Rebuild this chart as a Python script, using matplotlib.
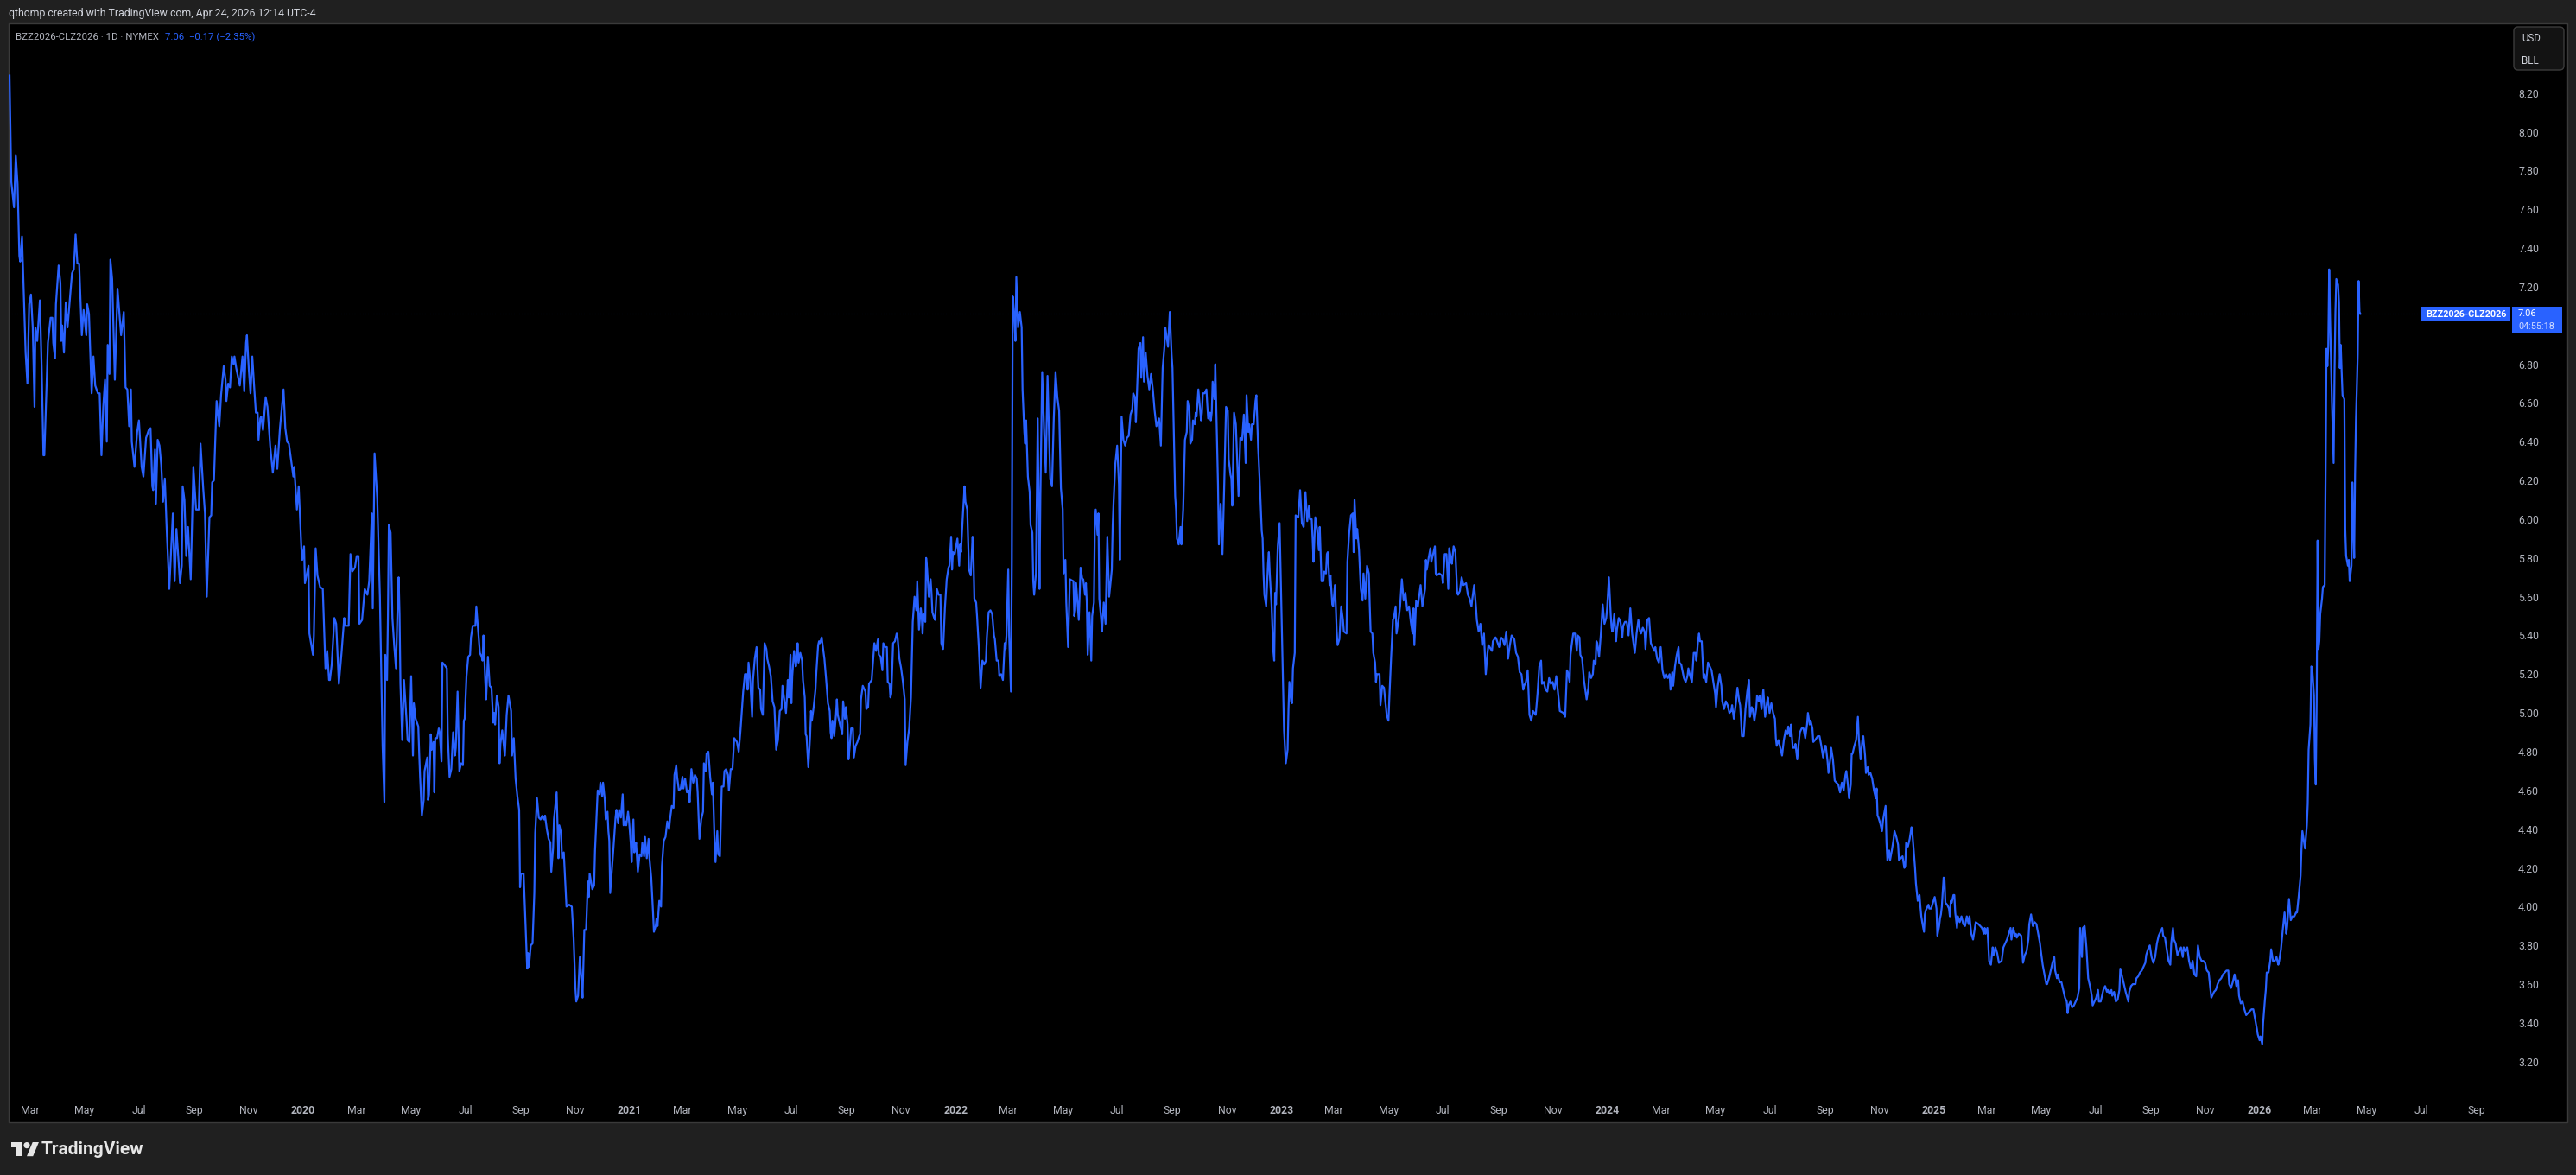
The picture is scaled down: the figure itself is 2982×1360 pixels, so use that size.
import numpy as np
import pandas as pd
import matplotlib
matplotlib.use("Agg")
import matplotlib.pyplot as plt
from matplotlib.patches import Rectangle, Polygon, Circle, FancyBboxPatch

# BZZ2026 - CLZ2026 spread.
# Day offsets are counted from 1 January of each year (0 = Jan 1).
days_2019 = [36, 38, 41, 43, 45, 47, 48, 50, 54, 56, 58, 60, 62, 64, 65, 67, 70, 72, 74, 75,
             79, 82, 84, 85, 87, 88, 91, 93, 94, 95, 97, 99, 101, 106, 108, 110, 112, 114, 117, 119,
             122, 123, 125, 128, 130, 132, 135, 137, 139, 141, 143, 145, 146, 148, 149, 151, 154, 157, 161, 164,
             166, 168, 170, 172, 173, 176, 179, 181, 184, 186, 189, 192, 194, 196, 197, 199, 200, 202, 204, 206,
             208, 210, 212, 215, 219, 221, 223, 227, 229, 230, 232, 234, 236, 239, 242, 245, 248, 250, 253, 255,
             257, 260, 262, 263, 265, 268, 271, 273, 276, 278, 279, 281, 283, 285, 287, 288, 290, 294, 297, 299,
             301, 302, 304, 306, 308, 310, 312, 314, 315, 317, 318, 320, 323, 325, 328, 331, 334, 336, 339, 343,
             345, 347, 349, 352, 354, 355, 358, 360, 363, 364]
spread_2019 = [8.29, 7.74, 7.61, 7.88, 7.73, 7.36, 7.33, 7.46, 6.86, 6.70, 7.11, 7.16, 6.99, 6.58, 6.99, 6.92, 7.13, 6.78, 6.33, 6.33,
               6.91, 7.04, 7.04, 6.91, 6.83, 7.11, 7.31, 7.22, 6.92, 7.00, 6.86, 7.12, 6.99, 7.27, 7.29, 7.47, 7.32, 7.32, 6.95, 7.08,
               6.95, 7.11, 7.06, 6.65, 6.84, 6.69, 6.65, 6.65, 6.33, 6.58, 6.72, 6.40, 6.90, 6.75, 7.34, 7.24, 6.72, 7.19, 6.95, 7.07,
               6.68, 6.67, 6.48, 6.67, 6.40, 6.27, 6.45, 6.51, 6.27, 6.22, 6.42, 6.46, 6.47, 6.17, 6.15, 6.36, 6.08, 6.41, 6.38, 6.28,
               6.09, 6.21, 5.96, 5.64, 6.03, 5.68, 5.95, 5.67, 5.76, 6.17, 6.10, 5.81, 5.96, 5.69, 6.27, 6.05, 6.05, 6.39, 6.16, 6.03,
               5.60, 6.01, 6.02, 6.19, 6.20, 6.61, 6.48, 6.64, 6.79, 6.72, 6.61, 6.70, 6.68, 6.84, 6.80, 6.84, 6.78, 6.69, 6.84, 6.66,
               6.91, 6.95, 6.78, 6.65, 6.84, 6.69, 6.55, 6.55, 6.41, 6.52, 6.53, 6.46, 6.63, 6.58, 6.38, 6.24, 6.38, 6.26, 6.47, 6.67,
               6.47, 6.40, 6.39, 6.29, 6.22, 6.27, 6.05, 6.17, 5.85, 5.79]

days_2020 = [1, 2, 6, 7, 11, 12, 14, 16, 19, 22, 25, 27, 29, 30, 32, 35, 37, 40, 43, 46,
             47, 51, 53, 55, 58, 60, 62, 63, 66, 69, 72, 74, 77, 78, 80, 83, 86, 89, 91, 92,
             94, 95, 96, 98, 100, 102, 104, 106, 107, 108, 109, 111, 113, 116, 117, 119, 121, 123, 124, 126,
             129, 130, 131, 133, 135, 136, 139, 140, 141, 143, 144, 146, 147, 148, 150, 152, 153, 155, 156, 158,
             161, 162, 164, 166, 168, 170, 171, 173, 175, 177, 179, 180, 181, 183, 185, 187, 188, 190, 193, 194,
             196, 198, 200, 201, 202, 204, 205, 207, 209, 211, 213, 214, 215, 217, 219, 220, 221, 223, 226, 228,
             230, 233, 234, 236, 238, 240, 242, 243, 244, 247, 248, 250, 251, 252, 253, 255, 257, 259, 260, 262,
             264, 266, 268, 270, 271, 273, 275, 277, 278, 280, 281, 284, 286, 287, 289, 290, 292, 295, 298, 301,
             303, 305, 306, 308, 310, 312, 313, 315, 317, 319, 320, 321, 324, 326, 327, 329, 330, 332, 333, 335,
             336, 338, 339, 341, 342, 343, 344, 347, 350, 351, 353, 354, 356, 358, 359, 361, 362, 364, 365]
spread_2020 = [5.86, 5.67, 5.76, 5.41, 5.30, 5.40, 5.85, 5.71, 5.65, 5.64, 5.23, 5.32, 5.17, 5.17, 5.25, 5.49, 5.46, 5.15, 5.31, 5.49,
               5.45, 5.45, 5.82, 5.73, 5.75, 5.81, 5.81, 5.46, 5.48, 5.64, 5.61, 5.68, 6.03, 5.54, 6.34, 6.11, 5.60, 4.83, 4.54, 5.30,
               5.17, 5.50, 5.97, 5.93, 5.49, 5.35, 5.23, 5.59, 5.70, 5.51, 5.15, 4.86, 5.17, 4.95, 4.86, 4.85, 5.19, 4.78, 5.05, 4.97,
               4.93, 4.79, 4.67, 4.47, 4.55, 4.70, 4.77, 4.55, 4.58, 4.89, 4.81, 4.85, 4.59, 4.87, 4.87, 4.92, 4.90, 4.75, 5.26, 5.25,
               5.23, 4.89, 4.67, 4.71, 4.90, 4.78, 4.82, 5.11, 4.70, 4.74, 4.73, 4.96, 4.97, 5.19, 5.29, 5.30, 5.39, 5.45, 5.45, 5.55,
               5.43, 5.31, 5.29, 5.27, 5.40, 5.17, 5.07, 5.29, 5.14, 5.13, 4.95, 5.00, 4.94, 5.09, 5.03, 4.74, 4.84, 4.91, 4.78, 4.99,
               5.09, 5.01, 4.78, 4.87, 4.66, 4.57, 4.50, 4.10, 4.17, 4.17, 4.05, 3.81, 3.68, 3.76, 3.69, 3.80, 3.81, 4.07, 4.38, 4.56,
               4.46, 4.45, 4.47, 4.45, 4.47, 4.40, 4.35, 4.33, 4.18, 4.30, 4.45, 4.59, 4.25, 4.42, 4.38, 4.25, 4.28, 4.00, 4.01, 4.00,
               3.84, 3.58, 3.51, 3.54, 3.74, 3.61, 3.53, 3.88, 3.88, 4.13, 4.05, 4.17, 4.09, 4.11, 4.29, 4.49, 4.60, 4.58, 4.64, 4.57,
               4.64, 4.55, 4.45, 4.49, 4.39, 4.34, 4.07, 4.26, 4.46, 4.50, 4.43, 4.50, 4.46, 4.58, 4.42, 4.44, 4.42, 4.49, 4.45]

days_2021 = [1, 2, 4, 5, 6, 7, 9, 11, 13, 14, 16, 17, 19, 21, 22, 24, 26, 27, 29, 30,
             31, 33, 35, 36, 38, 40, 42, 44, 45, 47, 49, 50, 52, 53, 55, 57, 59, 60, 62, 64,
             66, 67, 69, 71, 73, 75, 76, 78, 80, 82, 83, 85, 86, 88, 90, 92, 93, 95, 96, 98,
             99, 101, 103, 105, 106, 108, 110, 111, 113, 115, 117, 120, 122, 124, 126, 127, 129, 131, 132, 133,
             135, 137, 138, 140, 142, 144, 146, 147, 149, 151, 153, 154, 156, 158, 160, 162, 164, 166, 168, 170,
             171, 175, 176, 177, 178, 180, 181, 182, 184, 186, 187, 188, 189, 191, 193, 194, 196, 197, 198, 200,
             202, 203, 204, 206, 208, 209, 211, 212, 213, 215, 216, 218, 220, 222, 224, 225, 226, 227, 229, 231,
             232, 233, 235, 238, 239, 241, 242, 244, 245, 246, 248, 250, 251, 253, 255, 257, 258, 259, 261, 264,
             265, 267, 268, 271, 273, 274, 276, 278, 279, 281, 283, 284, 286, 288, 289, 291, 292, 293, 295, 297,
             299, 300, 302, 304, 306, 308, 309, 311, 313, 315, 317, 319, 321, 322, 324, 326, 327, 328, 329, 331,
             332, 333, 335, 337, 338, 339, 341, 342, 344, 346, 348, 349, 351, 353, 355, 357, 358, 360, 361, 362,
             364]
spread_2021 = [4.33, 4.23, 4.45, 4.28, 4.31, 4.33, 4.18, 4.27, 4.26, 4.33, 4.26, 4.36, 4.25, 4.35, 4.25, 4.15, 3.97, 3.87, 3.90, 3.94,
               3.90, 4.03, 4.00, 4.21, 4.34, 4.36, 4.44, 4.40, 4.45, 4.52, 4.51, 4.68, 4.73, 4.67, 4.60, 4.61, 4.67, 4.61, 4.66, 4.59,
               4.60, 4.54, 4.71, 4.64, 4.68, 4.66, 4.59, 4.35, 4.45, 4.49, 4.74, 4.70, 4.79, 4.80, 4.67, 4.58, 4.64, 4.33, 4.23, 4.39,
               4.27, 4.26, 4.62, 4.62, 4.70, 4.71, 4.68, 4.60, 4.71, 4.71, 4.87, 4.85, 4.80, 4.91, 5.04, 5.11, 5.20, 5.20, 5.12, 5.26,
               5.16, 4.98, 5.17, 5.28, 5.34, 5.13, 5.12, 5.02, 4.99, 5.36, 5.33, 5.28, 5.24, 5.19, 5.06, 5.03, 4.81, 4.86, 5.01, 5.02,
               5.14, 5.00, 5.08, 5.17, 5.08, 5.30, 5.05, 5.19, 5.32, 5.24, 5.28, 5.36, 5.26, 5.31, 5.27, 5.17, 5.08, 4.89, 4.88, 4.72,
               4.88, 5.01, 4.96, 5.03, 5.12, 5.21, 5.35, 5.37, 5.36, 5.39, 5.35, 5.28, 5.17, 5.05, 5.01, 4.90, 4.87, 4.96, 4.88, 4.99,
               5.07, 4.99, 4.95, 4.89, 5.06, 4.97, 5.03, 4.94, 4.76, 4.81, 4.92, 4.92, 4.77, 4.83, 4.85, 4.88, 4.89, 5.07, 5.14, 5.11,
               5.02, 5.03, 5.15, 5.17, 5.30, 5.36, 5.32, 5.38, 5.30, 5.29, 5.22, 5.36, 5.34, 5.34, 5.16, 5.15, 5.08, 5.10, 5.36, 5.37,
               5.41, 5.39, 5.28, 5.23, 5.16, 5.07, 4.73, 4.85, 4.92, 5.08, 5.47, 5.60, 5.53, 5.68, 5.43, 5.54, 5.50, 5.41, 5.51, 5.47,
               5.80, 5.75, 5.60, 5.69, 5.62, 5.52, 5.49, 5.48, 5.64, 5.61, 5.61, 5.36, 5.33, 5.54, 5.69, 5.75, 5.76, 5.91, 5.74, 5.83,
               5.82]

days_2022 = [2, 4, 5, 6, 8, 10, 11, 13, 15, 17, 19, 20, 21, 23, 24, 26, 28, 30, 32, 34,
             35, 37, 39, 41, 43, 44, 46, 48, 49, 51, 53, 55, 56, 57, 59, 60, 62, 63, 64, 66,
             67, 68, 70, 72, 74, 75, 77, 78, 79, 81, 83, 84, 86, 87, 88, 90, 92, 94, 95, 97,
             99, 101, 103, 106, 108, 110, 112, 114, 116, 118, 120, 121, 123, 124, 126, 128, 132, 133, 134, 135,
             138, 140, 142, 143, 145, 146, 147, 148, 150, 152, 153, 155, 156, 157, 159, 160, 161, 163, 164, 166,
             168, 170, 172, 174, 175, 176, 177, 179, 181, 183, 184, 186, 188, 190, 192, 194, 196, 198, 199, 201,
             202, 203, 205, 207, 208, 210, 211, 213, 215, 217, 219, 221, 223, 225, 228, 230, 232, 234, 235, 238,
             240, 242, 243, 246, 247, 248, 250, 252, 253, 255, 257, 259, 260, 262, 263, 265, 266, 268, 269, 270,
             272, 274, 275, 276, 277, 279, 281, 282, 283, 285, 286, 287, 288, 290, 291, 292, 294, 295, 297, 299,
             301, 303, 305, 306, 308, 309, 310, 312, 314, 316, 317, 319, 321, 323, 325, 326, 328, 329, 331, 332,
             334, 336, 337, 339, 341, 343, 344, 345, 346, 348, 350, 351, 352, 354, 356, 357, 358, 359, 361, 363,
             364]
spread_2022 = [5.90, 5.76, 5.87, 5.83, 6.01, 6.17, 6.09, 6.05, 5.74, 5.71, 5.91, 5.81, 5.59, 5.57, 5.50, 5.34, 5.13, 5.27, 5.25, 5.27,
               5.39, 5.52, 5.53, 5.51, 5.40, 5.38, 5.27, 5.27, 5.19, 5.20, 5.17, 5.36, 5.33, 5.40, 5.74, 5.40, 5.11, 5.78, 7.15, 7.03,
               6.92, 7.25, 6.99, 7.07, 6.99, 6.67, 6.45, 6.39, 6.51, 6.22, 6.14, 5.97, 5.93, 5.68, 5.61, 5.72, 6.52, 5.64, 6.12, 6.76,
               6.48, 6.24, 6.74, 6.21, 6.17, 6.52, 6.76, 6.63, 6.56, 6.16, 6.05, 5.72, 5.79, 5.57, 5.34, 5.69, 5.68, 5.50, 5.53, 5.67,
               5.48, 5.75, 5.69, 5.69, 5.61, 5.67, 5.57, 5.30, 5.52, 5.27, 5.50, 5.57, 5.97, 6.05, 5.92, 6.03, 5.59, 5.49, 5.42, 5.57,
               5.46, 5.91, 5.60, 5.69, 5.74, 5.97, 6.09, 6.29, 6.38, 6.18, 5.79, 6.53, 6.41, 6.38, 6.42, 6.43, 6.54, 6.57, 6.65, 6.63,
               6.50, 6.63, 6.88, 6.91, 6.73, 6.94, 6.71, 6.86, 6.74, 6.67, 6.75, 6.67, 6.56, 6.48, 6.52, 6.38, 6.78, 6.89, 6.99, 6.89,
               7.07, 6.85, 6.78, 6.12, 6.05, 5.90, 5.87, 5.96, 5.87, 6.05, 6.41, 6.45, 6.61, 6.56, 6.39, 6.41, 6.51, 6.49, 6.55, 6.53,
               6.67, 6.56, 6.51, 6.55, 6.65, 6.65, 6.67, 6.59, 6.52, 6.55, 6.51, 6.55, 6.71, 6.62, 6.80, 6.60, 6.18, 5.87, 6.08, 5.82,
               6.18, 6.58, 6.56, 6.31, 6.23, 6.21, 6.07, 6.55, 6.49, 6.25, 6.12, 6.42, 6.41, 6.54, 6.29, 6.64, 6.45, 6.49, 6.41, 6.49,
               6.49, 6.61, 6.64, 6.37, 6.17, 5.94, 5.90, 5.72, 5.61, 5.55, 5.77, 5.83, 5.72, 5.56, 5.32, 5.27, 5.62, 5.56, 5.86, 5.98,
               5.77]

days_2023 = [1, 2, 3, 5, 7, 8, 9, 11, 12, 13, 15, 16, 19, 21, 23, 25, 27, 29, 31, 32,
             34, 35, 36, 38, 40, 42, 43, 45, 47, 48, 50, 51, 52, 54, 55, 57, 58, 60, 61, 62,
             63, 65, 67, 69, 70, 73, 74, 76, 78, 80, 81, 82, 84, 85, 87, 89, 91, 92, 94, 96,
             98, 99, 100, 102, 103, 105, 106, 107, 110, 111, 113, 115, 118, 120, 121, 123, 125, 126, 128, 129,
             131, 133, 135, 137, 139, 141, 143, 145, 147, 148, 149, 151, 153, 154, 156, 158, 160, 161, 162, 163,
             165, 167, 168, 170, 172, 173, 174, 177, 180, 181, 183, 185, 187, 188, 190, 191, 193, 195, 197, 198,
             200, 202, 204, 207, 209, 211, 213, 214, 216, 218, 219, 221, 223, 225, 227, 229, 231, 232, 236, 237,
             240, 241, 244, 246, 248, 250, 252, 254, 256, 258, 261, 263, 265, 267, 269, 271, 272, 274, 276, 278,
             280, 282, 285, 287, 289, 291, 292, 294, 296, 298, 300, 302, 304, 306, 308, 311, 312, 316, 318, 320,
             321, 323, 324, 325, 327, 329, 331, 332, 334, 335, 337, 339, 342, 344, 345, 347, 349, 350, 352, 353,
             354, 356, 357, 358, 360, 362, 364]
spread_2023 = [5.35, 5.16, 4.91, 4.74, 4.81, 5.02, 5.16, 5.06, 5.05, 5.23, 5.31, 6.02, 6.01, 6.15, 5.98, 5.96, 6.14, 5.99, 6.07, 6.00,
               6.00, 5.90, 5.78, 6.01, 5.95, 5.84, 5.96, 5.68, 5.68, 5.73, 5.72, 5.82, 5.83, 5.66, 5.71, 5.56, 5.55, 5.66, 5.55, 5.42,
               5.35, 5.38, 5.55, 5.48, 5.42, 5.41, 5.78, 5.93, 6.02, 6.03, 5.83, 6.10, 5.90, 5.95, 5.84, 5.64, 5.58, 5.72, 5.59, 5.76,
               5.72, 5.56, 5.42, 5.41, 5.31, 5.26, 5.16, 5.20, 5.20, 5.04, 5.14, 5.13, 4.99, 4.96, 5.08, 5.29, 5.48, 5.49, 5.55, 5.41,
               5.47, 5.55, 5.69, 5.58, 5.62, 5.53, 5.55, 5.47, 5.41, 5.54, 5.35, 5.58, 5.55, 5.59, 5.66, 5.55, 5.61, 5.64, 5.79, 5.74,
               5.80, 5.85, 5.78, 5.82, 5.86, 5.72, 5.71, 5.72, 5.71, 5.67, 5.82, 5.82, 5.64, 5.85, 5.80, 5.77, 5.86, 5.83, 5.62, 5.61,
               5.63, 5.70, 5.66, 5.67, 5.61, 5.59, 5.55, 5.59, 5.66, 5.55, 5.48, 5.42, 5.46, 5.35, 5.41, 5.20, 5.31, 5.35, 5.32, 5.37,
               5.39, 5.38, 5.34, 5.39, 5.38, 5.35, 5.42, 5.28, 5.35, 5.40, 5.38, 5.31, 5.29, 5.21, 5.20, 5.12, 5.14, 5.16, 5.22, 4.99,
               4.96, 5.01, 4.99, 5.10, 5.24, 5.27, 5.15, 5.16, 5.12, 5.11, 5.18, 5.15, 5.16, 5.12, 5.19, 5.06, 5.01, 5.00, 4.98, 5.22,
               5.21, 5.16, 5.30, 5.34, 5.41, 5.41, 5.32, 5.40, 5.39, 5.30, 5.28, 5.17, 5.07, 5.13, 5.21, 5.18, 5.20, 5.27, 5.25, 5.37,
               5.36, 5.29, 5.35, 5.41, 5.56, 5.46, 5.49]

days_2024 = [0, 2, 4, 5, 6, 8, 10, 11, 13, 15, 17, 18, 20, 22, 24, 26, 28, 31, 33, 35,
             37, 38, 40, 42, 43, 45, 47, 49, 51, 53, 54, 56, 58, 60, 62, 64, 66, 68, 70, 71,
             73, 74, 76, 78, 80, 81, 83, 86, 88, 90, 91, 93, 95, 97, 99, 100, 102, 103, 104, 106,
             108, 109, 111, 113, 115, 117, 119, 121, 122, 124, 126, 128, 129, 131, 133, 135, 137, 139, 140, 142,
             144, 146, 148, 149, 150, 151, 153, 155, 157, 159, 160, 162, 163, 165, 167, 168, 170, 171, 173, 175,
             177, 179, 180, 182, 184, 186, 188, 189, 190, 192, 194, 196, 198, 200, 202, 203, 205, 206, 208, 210,
             211, 213, 215, 216, 218, 220, 222, 224, 225, 227, 228, 230, 231, 233, 236, 238, 240, 242, 244, 245,
             247, 248, 250, 251, 253, 255, 257, 259, 261, 263, 265, 267, 268, 270, 271, 273, 274, 275, 277, 279,
             281, 282, 284, 286, 287, 289, 290, 292, 293, 295, 297, 299, 301, 302, 303, 304, 306, 308, 309, 310,
             312, 313, 314, 316, 317, 319, 321, 322, 324, 326, 327, 329, 331, 333, 334, 335, 337, 339, 341, 342,
             343, 345, 346, 348, 350, 351, 352, 353, 355, 356, 357, 359, 360, 361, 363, 365]
spread_2024 = [5.54, 5.70, 5.51, 5.44, 5.42, 5.51, 5.37, 5.43, 5.49, 5.47, 5.39, 5.45, 5.47, 5.47, 5.40, 5.54, 5.41, 5.31, 5.41, 5.48,
               5.42, 5.41, 5.44, 5.42, 5.33, 5.48, 5.49, 5.36, 5.34, 5.32, 5.34, 5.28, 5.26, 5.34, 5.22, 5.18, 5.20, 5.18, 5.20, 5.12,
               5.21, 5.14, 5.24, 5.30, 5.34, 5.26, 5.25, 5.18, 5.16, 5.19, 5.23, 5.19, 5.16, 5.31, 5.31, 5.27, 5.38, 5.41, 5.37, 5.37,
               5.18, 5.20, 5.16, 5.26, 5.24, 5.22, 5.16, 5.10, 5.03, 5.14, 5.20, 5.14, 5.06, 5.02, 5.06, 5.04, 5.00, 5.01, 5.04, 4.97,
               5.04, 5.13, 5.06, 5.04, 4.97, 4.88, 4.88, 5.02, 5.11, 5.17, 4.98, 5.03, 5.02, 4.96, 5.02, 5.09, 5.06, 5.09, 5.02, 5.12,
               4.98, 5.05, 5.08, 5.00, 5.05, 5.00, 4.97, 4.87, 4.83, 4.86, 4.82, 4.78, 4.86, 4.91, 4.89, 4.93, 4.88, 4.94, 4.82, 4.82,
               4.84, 4.76, 4.86, 4.90, 4.92, 4.92, 4.87, 4.94, 5.00, 4.94, 4.96, 4.92, 4.85, 4.86, 4.88, 4.88, 4.83, 4.77, 4.83, 4.83,
               4.75, 4.69, 4.76, 4.82, 4.76, 4.65, 4.64, 4.63, 4.59, 4.64, 4.60, 4.68, 4.70, 4.62, 4.56, 4.63, 4.79, 4.79, 4.83, 4.86,
               4.98, 4.87, 4.76, 4.86, 4.88, 4.78, 4.69, 4.72, 4.68, 4.69, 4.66, 4.60, 4.56, 4.61, 4.47, 4.46, 4.43, 4.39, 4.44, 4.47,
               4.52, 4.33, 4.24, 4.29, 4.24, 4.29, 4.35, 4.39, 4.36, 4.32, 4.24, 4.25, 4.26, 4.20, 4.21, 4.33, 4.31, 4.35, 4.41, 4.38,
               4.32, 4.20, 4.12, 4.03, 4.06, 4.00, 3.95, 3.92, 3.87, 3.96, 3.98, 4.00, 4.01, 3.99, 3.99, 4.02]

days_2025 = [1, 3, 4, 6, 7, 8, 9, 11, 12, 13, 15, 17, 18, 19, 20, 22, 23, 24, 26, 27,
             29, 31, 33, 35, 37, 39, 40, 42, 44, 46, 47, 50, 52, 54, 56, 57, 58, 60, 61, 62,
             64, 66, 67, 69, 71, 73, 76, 78, 80, 82, 84, 86, 87, 89, 91, 92, 93, 95, 98, 100,
             102, 104, 106, 107, 109, 111, 113, 115, 117, 119, 120, 122, 124, 126, 127, 129, 131, 133, 135, 136,
             138, 139, 141, 143, 145, 147, 149, 150, 151, 153, 155, 157, 159, 161, 163, 164, 166, 167, 169, 171,
             173, 175, 177, 178, 180, 182, 184, 185, 187, 188, 190, 192, 194, 195, 197, 199, 200, 202, 204, 206,
             208, 209, 211, 213, 215, 218, 219, 221, 223, 226, 227, 229, 231, 233, 235, 237, 238, 240, 242, 244,
             246, 248, 250, 252, 254, 256, 257, 259, 261, 263, 265, 266, 268, 269, 271, 273, 275, 277, 279, 280,
             282, 284, 286, 288, 290, 292, 294, 296, 298, 300, 302, 304, 306, 308, 310, 311, 314, 316, 318, 320,
             322, 324, 326, 328, 330, 331, 333, 335, 337, 339, 341, 342, 344, 346, 348, 350, 352, 354, 356, 358,
             360, 362, 363]
spread_2025 = [4.05, 3.99, 3.85, 3.90, 3.94, 3.96, 4.00, 4.15, 4.14, 4.02, 4.01, 3.99, 3.95, 4.03, 4.02, 4.06, 4.06, 3.97, 3.89, 3.95,
               3.92, 3.95, 3.91, 3.90, 3.95, 3.91, 3.95, 3.86, 3.83, 3.89, 3.92, 3.91, 3.90, 3.89, 3.86, 3.89, 3.86, 3.89, 3.81, 3.72,
               3.70, 3.79, 3.75, 3.79, 3.76, 3.71, 3.72, 3.79, 3.81, 3.83, 3.86, 3.89, 3.83, 3.89, 3.85, 3.86, 3.84, 3.86, 3.85, 3.71,
               3.75, 3.77, 3.83, 3.91, 3.96, 3.90, 3.92, 3.91, 3.86, 3.81, 3.77, 3.70, 3.65, 3.60, 3.60, 3.63, 3.67, 3.71, 3.74, 3.67,
               3.63, 3.65, 3.61, 3.61, 3.57, 3.53, 3.51, 3.45, 3.49, 3.51, 3.48, 3.49, 3.51, 3.53, 3.58, 3.89, 3.74, 3.89, 3.90, 3.79,
               3.63, 3.59, 3.54, 3.49, 3.51, 3.53, 3.57, 3.51, 3.51, 3.53, 3.57, 3.59, 3.56, 3.57, 3.55, 3.57, 3.54, 3.56, 3.51, 3.52,
               3.57, 3.68, 3.64, 3.60, 3.56, 3.51, 3.56, 3.59, 3.60, 3.60, 3.63, 3.64, 3.66, 3.67, 3.69, 3.71, 3.75, 3.78, 3.80, 3.74,
               3.71, 3.74, 3.81, 3.85, 3.87, 3.89, 3.85, 3.84, 3.78, 3.72, 3.70, 3.81, 3.89, 3.83, 3.81, 3.75, 3.77, 3.79, 3.74, 3.79,
               3.77, 3.79, 3.72, 3.68, 3.72, 3.65, 3.64, 3.80, 3.74, 3.72, 3.72, 3.71, 3.67, 3.66, 3.57, 3.53, 3.56, 3.57, 3.60, 3.62,
               3.63, 3.65, 3.66, 3.67, 3.67, 3.60, 3.58, 3.61, 3.65, 3.59, 3.62, 3.54, 3.50, 3.51, 3.47, 3.44, 3.45, 3.46, 3.47, 3.47,
               3.42, 3.37, 3.34]

days_2026 = [0, 1, 3, 4, 6, 7, 8, 10, 12, 13, 15, 17, 19, 21, 22, 24, 26, 28, 30, 31,
             33, 35, 37, 39, 41, 42, 44, 46, 47, 48, 51, 53, 54, 55, 57, 58, 59, 61, 62, 63,
             64, 65, 66, 67, 68, 70, 71, 73, 74, 75, 76, 77, 78, 79, 81, 83, 84, 85, 86, 88,
             89, 90, 91, 92, 93, 95, 96, 97, 99, 100, 101, 103, 104, 105, 106, 107, 108, 110, 111, 112,
             113]
spread_2026 = [3.31, 3.33, 3.29, 3.40, 3.52, 3.57, 3.66, 3.66, 3.72, 3.78, 3.72, 3.72, 3.74, 3.70, 3.72, 3.78, 3.88, 3.97, 3.86, 3.90,
               4.04, 3.93, 3.95, 3.95, 3.97, 3.97, 4.06, 4.16, 4.30, 4.39, 4.30, 4.42, 4.53, 4.81, 4.94, 5.24, 5.23, 5.09, 4.76, 4.63,
               5.06, 5.89, 5.33, 5.37, 5.51, 5.59, 5.65, 5.66, 6.23, 6.88, 6.79, 6.89, 7.29, 7.04, 6.62, 6.29, 6.76, 7.07, 7.24, 7.21,
               7.12, 6.78, 6.90, 6.76, 6.64, 6.62, 5.95, 5.81, 5.76, 5.79, 5.68, 5.76, 6.19, 5.98, 5.80, 6.23, 6.51, 6.85, 7.23, 7.07,
               7.06]

symbol = "BZZ2026-CLZ2026"
last_price = 7.06
change = -0.17
change_pct = -2.35
countdown = "04:55:18"
header = "qthomp created with TradingView.com, Apr 24, 2026 12:14 UTC-4"
price_ticks = [3.20, 3.40, 3.60, 3.80, 4.00, 4.20, 4.40, 4.60, 4.80, 5.00, 5.20, 5.40, 5.60,
               5.80, 6.00, 6.20, 6.40, 6.60, 6.80, 7.00, 7.20, 7.40, 7.60, 7.80, 8.00, 8.20]
month_names = {3: "Mar", 5: "May", 7: "Jul", 9: "Sep", 11: "Nov"}

# colours
BG = "#202020"
PANEL_EDGE = "#3a3a3a"
LINE = "#2962ff"
AXIS_TXT = "#b2b5be"
TXT = "#d1d4dc"

plt.rcParams["font.family"] = ["Roboto", "DejaVu Sans"]

W, H = 2982, 1360
fig = plt.figure(figsize=(W / 100, H / 100), dpi=100, facecolor=BG)

# background layer (pixel coordinates, origin top-left)
back = fig.add_axes([0, 0, 1, 1], zorder=0)
back.set_xlim(0, W)
back.set_ylim(H, 0)
back.axis("off")
back.add_patch(Rectangle((10, 27), 2962, 1272, facecolor="black", edgecolor=PANEL_EDGE, lw=1))

# price pane
ax = fig.add_axes([10 / W, 1 - 1270 / H, 2896 / W, 1243 / H], zorder=1)
ax.set_facecolor("none")

segments = [(2019, days_2019, spread_2019), (2020, days_2020, spread_2020),
            (2021, days_2021, spread_2021), (2022, days_2022, spread_2022),
            (2023, days_2023, spread_2023), (2024, days_2024, spread_2024),
            (2025, days_2025, spread_2025), (2026, days_2026, spread_2026)]
dates, values = [], []
for year, days, vals in segments:
    start = pd.Timestamp(year=year, month=1, day=1)
    dates.extend(start + pd.to_timedelta(days, unit="D"))
    values.extend(vals)
series = pd.Series(values, index=pd.DatetimeIndex(dates))

ax.plot(series.index, series.values, color=LINE, lw=1.6, solid_joinstyle="round", zorder=3)
ax.axhline(last_price, color=LINE, lw=0.75, ls=(0, (1, 2)), zorder=2)

ax.set_xlim(pd.Timestamp("2019-02-05"), pd.Timestamp("2026-10-09"))
ax.set_ylim(3.016, 8.56)
for s in ax.spines.values():
    s.set_visible(False)

# price scale; a level hidden under the last-price label is left blank, as on the chart
ax.yaxis.tick_right()
ax.set_yticks(price_ticks)
ax.set_yticklabels(["" if abs(v - last_price) < 0.1 else f"{v:.2f}" for v in price_ticks])
ax.tick_params(axis="y", length=0, pad=6.5, labelsize=8.8, labelcolor=AXIS_TXT)

# time scale
tick_dates, tick_labels = [], []
for year in range(2019, 2027):
    for month in (1, 3, 5, 7, 9, 11):
        d = pd.Timestamp(year=year, month=month, day=1)
        if d < pd.Timestamp("2019-03-01") or d > pd.Timestamp("2026-09-01"):
            continue
        tick_dates.append(d)
        tick_labels.append(str(year) if month == 1 else month_names[month])
ax.set_xticks(tick_dates)
ax.set_xticklabels(tick_labels)
ax.tick_params(axis="x", length=0, pad=6.5, labelsize=8.8, labelcolor=AXIS_TXT)
for lbl in ax.get_xticklabels():
    if lbl.get_text().isdigit():
        lbl.set_fontweight("bold")

# overlay layer for labels, boxes and logo
top = fig.add_axes([0, 0, 1, 1], zorder=5)
top.set_xlim(0, W)
top.set_ylim(H, 0)
top.axis("off")

top.text(10, 15, header, color=TXT, fontsize=8.8, va="center", ha="left")
legend_name = top.text(18, 43, f"{symbol} \u00b7 1D \u00b7 NYMEX", color=AXIS_TXT,
                       fontsize=8.2, va="center", ha="left")
top.annotate(f"{last_price:.2f}  \u2212{abs(change):.2f} (\u2212{abs(change_pct):.2f}%)",
             xy=(1, 0.5), xycoords=legend_name, xytext=(5, 0), textcoords="offset points",
             color=LINE, fontsize=8.2, va="center", ha="left")

# currency / unit box
top.add_patch(FancyBboxPatch((2910, 31), 58, 50, boxstyle="round,pad=0,rounding_size=5",
                             facecolor="#131313", edgecolor="#3c3c3c", lw=1))
top.text(2919, 44, "USD", color=TXT, fontsize=8.3, va="center", ha="left")
top.text(2919, 70, "BLL", color=TXT, fontsize=8.3, va="center", ha="left")

# last price labels on the scale
y_px = H - ax.transData.transform((ax.get_xlim()[0], last_price))[1]
top.add_patch(Rectangle((2803, y_px - 8), 103, 17, facecolor=LINE, edgecolor="none"))
top.text(2854.5, y_px + 0.5, symbol, color="white", fontsize=7.8, fontweight="bold", va="center", ha="center")
top.add_patch(Rectangle((2908, y_px - 8), 58, 31, facecolor=LINE, edgecolor="none"))
top.text(2915, y_px, f"{last_price:.2f}", color="white", fontsize=8.0, va="center", ha="left")
top.text(2915, y_px + 15, countdown, color="#cfdaff", fontsize=7.8, va="center", ha="left")

# TradingView logo
sx, ox, oy = 0.9, 13, 1322
def lp(u, v):
    return (ox + u * sx, oy + (v - 4) * sx)
top.add_patch(Polygon([lp(0, 4), lp(14, 4), lp(14, 22), lp(7, 22), lp(7, 11), lp(0, 11)],
                      closed=True, facecolor="#e6e6e6", edgecolor="none"))
top.add_patch(Circle(lp(20, 8), 4 * sx, facecolor="#e6e6e6", edgecolor="none"))
top.add_patch(Polygon([lp(27.5, 4), lp(35.5, 4), lp(28, 22), lp(20, 22)],
                      closed=True, facecolor="#e6e6e6", edgecolor="none"))
top.text(48, 1331, "TradingView", color="#e6e6e6", fontsize=15, fontweight="bold", va="center", ha="left")

fig.savefig("out.png", dpi=100, facecolor=BG)
